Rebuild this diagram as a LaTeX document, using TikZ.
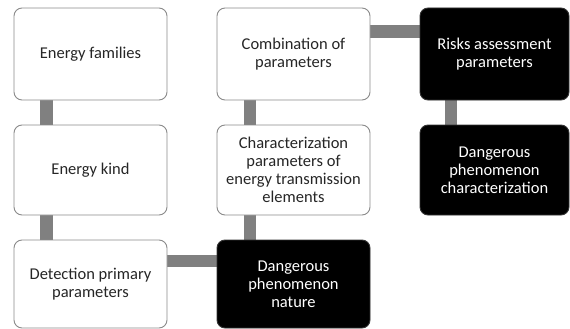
\documentclass[tikz,border=0pt]{standalone}
\usepackage{fontspec}
\setmainfont{Carlito}
\usetikzlibrary{backgrounds}
\definecolor{conngray}{HTML}{808080}
\definecolor{bordergray}{HTML}{8A8A8A}
\tikzset{
  wbox/.style={draw=bordergray, line width=0.9pt, fill=white, rounded corners=8pt,
    align=center, text=black!85, font=\fontsize{16.5}{18}\selectfont, inner sep=2pt},
  bbox/.style={draw=black!80, line width=0.9pt, fill=black, rounded corners=8pt,
    align=center, text=white, font=\fontsize{16.5}{18}\selectfont, inner sep=2pt},
  colA/.style={minimum width=153pt},
  colC/.style={minimum width=149pt},
  conn/.style={draw=conngray, line width=12.5pt},
}
\begin{document}
\begin{tikzpicture}[x=1pt,y=1pt]
\useasboundingbox (0,0) rectangle (570,-329);
\node[wbox, colA, minimum height=92pt] (ef) at (90.5,-54) {Energy families};
\node[wbox, colA, minimum height=90pt] (ek) at (90.5,-170) {Energy kind};
\node[wbox, colA, minimum height=88pt] (dpp) at (90.5,-284) {Detection primary\\parameters};
\node[wbox, colA, minimum height=92pt] (comb) at (293.5,-54) {Combination of\\parameters};
\node[wbox, colA, minimum height=90pt] (char) at (293.5,-170) {Characterization\\parameters of\\energy transmission\\elements};
\node[bbox, colA, minimum height=88pt] (dpn) at (293.5,-284) {Dangerous\\phenomenon\\nature};
\node[bbox, colC, minimum height=92pt] (risk) at (494.5,-54) {Risks assessment\\parameters};
\node[bbox, colC, minimum height=90pt] (dpc) at (494.5,-170) {Dangerous\\phenomenon\\characterization};
\begin{pgfonlayer}{background}
\draw[conn] ([xshift=-44pt]ef.south) -- ([xshift=-44pt]ek.north);
\draw[conn] ([xshift=-44pt]ek.south) -- ([xshift=-44pt]dpp.north);
\draw[conn] ([xshift=-43.5pt]comb.south) -- ([xshift=-43.5pt]char.north);
\draw[conn] ([xshift=-43.5pt]char.south) -- ([xshift=-43.5pt]dpn.north);
\draw[conn] ([xshift=-43.5pt]risk.south) -- ([xshift=-43.5pt]dpc.north);
\draw[conn] ([yshift=23pt]dpp.east) -- ([yshift=23pt]dpn.west);
\draw[conn] ([yshift=22.5pt]comb.east) -- ([yshift=22.5pt]risk.west);
\end{pgfonlayer}
\end{tikzpicture}
\end{document}
